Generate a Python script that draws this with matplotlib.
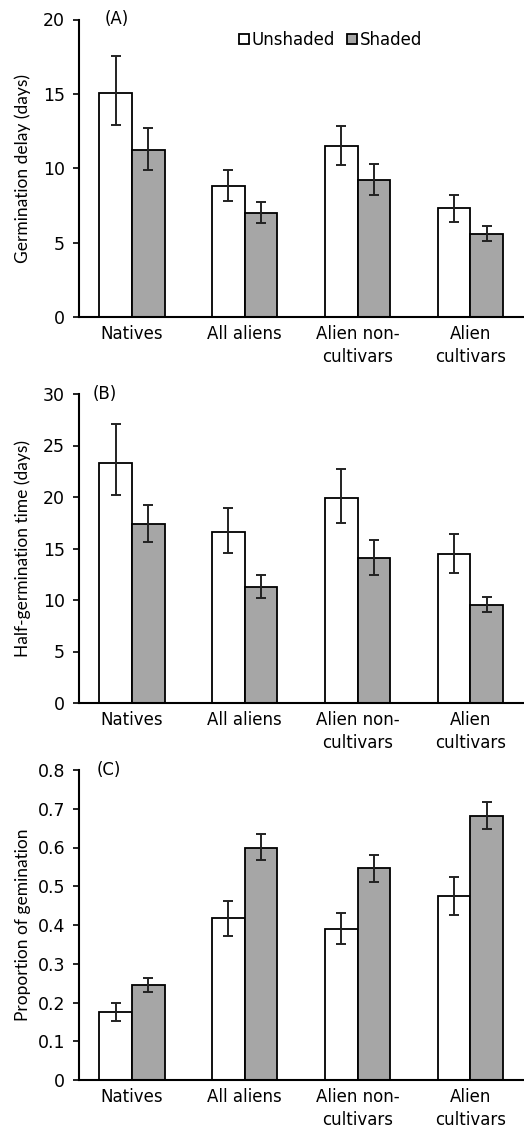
import numpy as np
import matplotlib.pyplot as plt

# Dados
categorias = ["Natives", "All aliens", "Alien non-\ncultivars", "Alien\ncultivars"]

# (A) atraso de germinação (dias)
atraso_sem = [15.05, 8.8, 11.5, 7.3]
atraso_sem_sup = [17.55, 9.9, 12.85, 8.2]
atraso_sem_inf = [12.9, 7.8, 10.2, 6.4]
atraso_com = [11.2, 7.0, 9.2, 5.6]
atraso_com_sup = [12.7, 7.7, 10.3, 6.1]
atraso_com_inf = [9.9, 6.3, 8.2, 5.1]

# (B) tempo de meia-germinação (dias)
meia_sem = [23.3, 16.6, 19.9, 14.5]
meia_sem_sup = [27.05, 18.9, 22.7, 16.45]
meia_sem_inf = [20.2, 14.55, 17.45, 12.6]
meia_com = [17.4, 11.3, 14.1, 9.5]
meia_com_sup = [19.25, 12.4, 15.8, 10.3]
meia_com_inf = [15.65, 10.2, 12.4, 8.8]

# (C) proporção de germinação
prop_sem = [0.176, 0.418, 0.39, 0.474]
prop_sem_sup = [0.2, 0.461, 0.432, 0.523]
prop_sem_inf = [0.151, 0.372, 0.35, 0.425]
prop_com = [0.245, 0.6, 0.547, 0.682]
prop_com_sup = [0.263, 0.635, 0.581, 0.718]
prop_com_inf = [0.228, 0.567, 0.511, 0.648]

W, H = 524, 1130
fig = plt.figure(figsize=(W / 100, H / 100), dpi=100)


def painel(topo, base, vs, vs_sup, vs_inf, vc, vc_sup, vc_inf, ylim, passo, ylabel, letra, letra_x, fmt=None):
    ax = fig.add_axes([79 / W, 1 - base / H, 1 - 79 / W, (base - topo) / H])
    x = np.arange(len(categorias))
    larg = 0.29
    erro_s = [np.array(vs) - np.array(vs_inf), np.array(vs_sup) - np.array(vs)]
    erro_c = [np.array(vc) - np.array(vc_inf), np.array(vc_sup) - np.array(vc)]
    kw = dict(edgecolor="black", linewidth=1.3, capsize=3.5,
              error_kw=dict(elinewidth=1.4, capthick=1.4, ecolor="#222222"))
    ax.bar(x - larg / 2, vs, larg, yerr=erro_s, color="white", label="Unshaded", **kw)
    ax.bar(x + larg / 2, vc, larg, yerr=erro_c, color="#a6a6a6", label="Shaded", **kw)
    ax.set_xlim(-0.47, 3.476)
    ax.set_ylim(*ylim)
    ticks = np.arange(ylim[0], ylim[1] + passo / 2, passo)
    ax.set_yticks(ticks)
    if fmt:
        ax.set_yticklabels([fmt(t) for t in ticks])
    ax.set_xticks(x)
    ax.set_xticklabels(categorias, fontsize=12, linespacing=1.35)
    ax.tick_params(axis="x", length=0, pad=6)
    ax.tick_params(axis="y", labelsize=12.5, length=4, width=1.2, pad=6)
    for s in ["top", "right"]:
        ax.spines[s].set_visible(False)
    for s in ["left", "bottom"]:
        ax.spines[s].set_linewidth(1.5)
    ax.set_ylabel(ylabel, fontsize=12.5, family="Lato")
    ax.yaxis.set_label_coords(-48 / (W - 79), 0.5)
    ax.text(letra_x, 1.0, letra, transform=ax.transAxes, fontsize=12, va="center")
    return ax


axA = painel(19.5, 317, atraso_sem, atraso_sem_sup, atraso_sem_inf,
             atraso_com, atraso_com_sup, atraso_com_inf,
             (0, 20), 5, "Germination delay (days)", "(A)", 0.058)
axA.legend(loc="upper left", bbox_to_anchor=(0.34, 0.99), ncol=2, frameon=False,
           fontsize=12, handlelength=0.6, handleheight=0.6, handletextpad=0.2,
           columnspacing=0.7, borderpad=0)

painel(394, 703, meia_sem, meia_sem_sup, meia_sem_inf,
       meia_com, meia_com_sup, meia_com_inf,
       (0, 30), 5, "Half-germination time (days)", "(B)", 0.03)

painel(770, 1080, prop_sem, prop_sem_sup, prop_sem_inf,
       prop_com, prop_com_sup, prop_com_inf,
       (0, 0.8), 0.1, "Proportion of gemination", "(C)", 0.04,
       fmt=lambda t: "0" if t == 0 else f"{t:.1f}")

fig.savefig("out.png", dpi=100)
